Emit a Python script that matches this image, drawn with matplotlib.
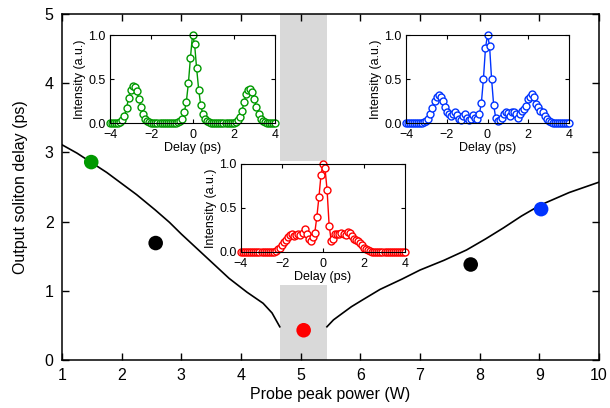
import numpy as np
import matplotlib
matplotlib.use("Agg")
import matplotlib.pyplot as plt

plt.rcParams['font.family'] = ['Liberation Sans', 'DejaVu Sans']

# main panel: output soliton delay vs probe peak power
power = [1.49, 2.57, 5.05, 7.85, 9.03]
delay = [2.86, 1.69, 0.43, 1.38, 2.18]
point_colors = ['#009900', 'black', '#ff0000', 'black', '#0033ff']

# simulated curve (gap where the gray band sits)
curve_x = [1.0, 1.25, 1.5, 1.75, 2.0, 2.25, 2.56, 2.8, 3.0, 3.25, 3.5, 3.8,
           4.1, 4.37, 4.52, 4.65, np.nan,
           5.44, 5.55, 5.66, 5.85, 6.04, 6.33, 6.7, 7.0, 7.4, 7.78, 8.1,
           8.4, 8.7, 9.02, 9.5, 10.0]
curve_y = [3.11, 2.99, 2.85, 2.71, 2.55, 2.39, 2.17, 1.99, 1.82, 1.62, 1.42, 1.18,
           0.98, 0.82, 0.68, 0.48, np.nan,
           0.48, 0.58, 0.65, 0.77, 0.87, 1.02, 1.17, 1.30, 1.44, 1.59, 1.75,
           1.91, 2.08, 2.24, 2.42, 2.57]

band_x = [4.65, 5.44]
band_low = 1.08
band_high = 2.88

# inset pulse profiles, delay -4..4 ps in 0.1 ps steps
t = np.linspace(-4, 4, 81)

green_I = [0, 0, 0, 0, 0, 0.01, 0.03, 0.08, 0.17, 0.28,
           0.37, 0.42, 0.41, 0.36, 0.27, 0.18, 0.10, 0.05, 0.02, 0.01,
           0, 0, 0, 0, 0, 0, 0, 0, 0, 0,
           0, 0, 0, 0.01, 0.02, 0.05, 0.12, 0.24, 0.45, 0.74,
           1.0, 0.9, 0.62, 0.38, 0.2, 0.1, 0.05, 0.02, 0.01, 0,
           0, 0, 0, 0, 0, 0, 0, 0, 0, 0,
           0, 0.01, 0.03, 0.07, 0.14, 0.24, 0.33, 0.38, 0.39, 0.35,
           0.27, 0.18, 0.10, 0.05, 0.02, 0.01, 0, 0, 0, 0,
           0]

blue_I = [0, 0, 0, 0, 0, 0, 0, 0, 0, 0.01,
          0.02, 0.05, 0.10, 0.17, 0.25, 0.29, 0.32, 0.30, 0.25, 0.18,
          0.13, 0.10, 0.08, 0.10, 0.12, 0.09, 0.05, 0.03, 0.08, 0.10,
          0.06, 0.03, 0.05, 0.09, 0.06, 0.04, 0.10, 0.23, 0.50, 0.85,
          1.0, 0.88, 0.50, 0.21, 0.06, 0.02, 0.03, 0.06, 0.10, 0.12,
          0.11, 0.08, 0.12, 0.13, 0.10, 0.06, 0.10, 0.14, 0.16, 0.19,
          0.27, 0.30, 0.33, 0.30, 0.22, 0.18, 0.14, 0.12, 0.08, 0.05,
          0.02, 0.01, 0, 0, 0, 0, 0, 0, 0, 0,
          0]

red_I = [0, 0, 0, 0, 0, 0, 0, 0, 0, 0,
         0, 0, 0, 0, 0, 0, 0, 0.01, 0.03, 0.05,
         0.08, 0.11, 0.14, 0.17, 0.19, 0.20, 0.18, 0.19, 0.21, 0.19,
         0.22, 0.26, 0.20, 0.15, 0.12, 0.17, 0.22, 0.40, 0.62, 0.87,
         1.0, 0.95, 0.70, 0.30, 0.13, 0.15, 0.20, 0.21, 0.20, 0.22,
         0.21, 0.19, 0.23, 0.22, 0.18, 0.15, 0.14, 0.12, 0.10, 0.08,
         0.05, 0.03, 0.02, 0.01, 0, 0, 0, 0, 0, 0,
         0, 0, 0, 0, 0, 0, 0, 0, 0, 0,
         0]

fig = plt.figure(figsize=(6.1, 4.08), dpi=100)
ax = fig.add_axes([62/610, 1-360/408, 537/610, 346/408])

ax.fill_between(band_x, 0, band_low, color='#d9d9d9', lw=0, zorder=1)
ax.fill_between(band_x, band_high, 5, color='#d9d9d9', lw=0, zorder=1)
ax.plot(curve_x, curve_y, color='black', lw=1.2, zorder=2)
ax.scatter(power, delay, s=110, c=point_colors, zorder=3, edgecolors='none')

ax.set_xlim(1, 10)
ax.set_ylim(0, 5)
ax.set_xticks(range(1, 11))
ax.set_yticks(range(0, 6))
ax.tick_params(direction='in', top=True, right=True, length=5, width=1,
               labelsize=11.5, pad=6)
for s in ax.spines.values():
    s.set_linewidth(1.1)
ax.set_xlabel("Probe peak power (W)", fontsize=11.5, labelpad=3)
ax.set_ylabel("Output soliton delay (ps)", fontsize=11.5, labelpad=12)


def inset(rect, y, col):
    a = fig.add_axes(rect)
    a.plot(t, y, '-o', color=col, lw=1, ms=5, mfc='white', mec=col, mew=1,
           clip_on=False)
    a.set_xlim(-4, 4)
    a.set_ylim(0, 1.0)
    a.set_xticks([-4, -2, 0, 2, 4])
    a.set_yticks([0, 0.5, 1.0])
    a.set_yticklabels(['0.0', '0.5', '1.0'])
    a.tick_params(direction='in', top=True, right=True, length=3, width=0.8,
                  labelsize=9)
    a.tick_params(axis='x', pad=4)
    a.tick_params(axis='y', pad=3)
    for s in a.spines.values():
        s.set_linewidth(0.8)
    a.set_xlabel("Delay (ps)", fontsize=9, labelpad=1)
    a.set_ylabel("Intensity (a.u.)", fontsize=9, labelpad=2)
    return a


inset([110/610, 1-123/408, 165/610, 88/408], green_I, '#009900')
inset([406/610, 1-123/408, 163/610, 88/408], blue_I, '#0033ff')
inset([241/610, 1-252/408, 164/610, 88/408], red_I, '#ff0000')

fig.savefig("out.png", dpi=100)
